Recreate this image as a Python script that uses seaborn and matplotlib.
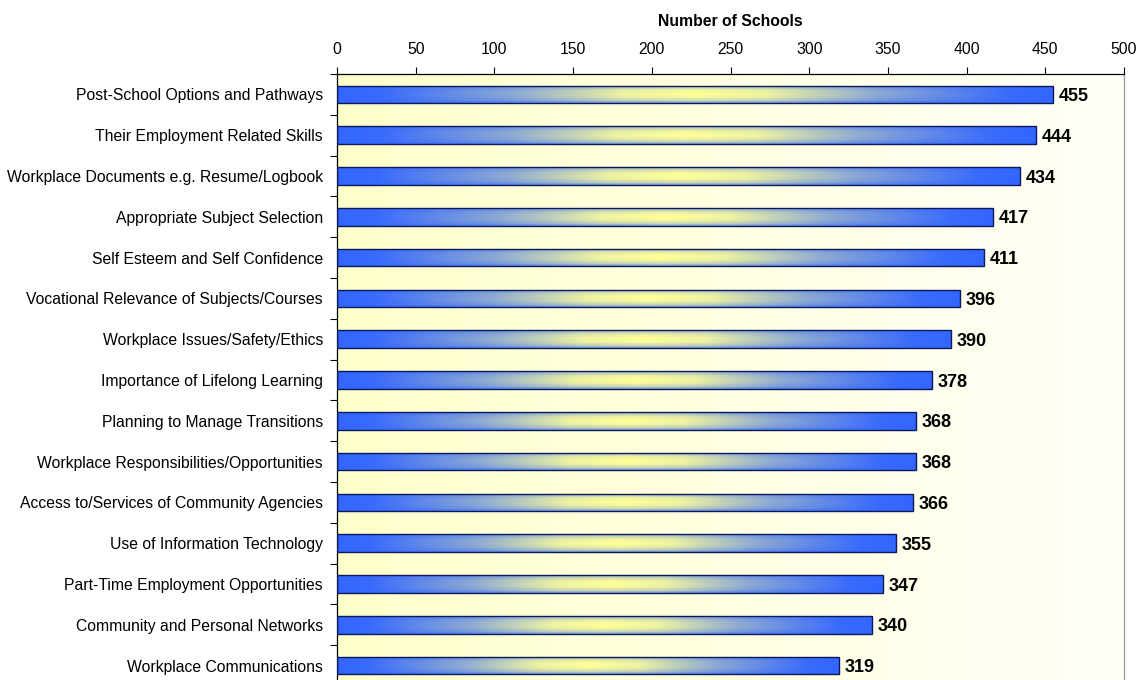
import numpy as np
import pandas as pd
import matplotlib
matplotlib.use("Agg")
import matplotlib.pyplot as plt
import seaborn as sns
from matplotlib.colors import to_rgb

categories = [
    "Post-School Options and Pathways",
    "Their Employment Related Skills",
    "Workplace Documents e.g. Resume/Logbook",
    "Appropriate Subject Selection",
    "Self Esteem and Self Confidence",
    "Vocational Relevance of Subjects/Courses",
    "Workplace Issues/Safety/Ethics",
    "Importance of Lifelong Learning",
    "Planning to Manage Transitions",
    "Workplace Responsibilities/Opportunities",
    "Access to/Services of Community Agencies",
    "Use of Information Technology",
    "Part-Time Employment Opportunities",
    "Community and Personal Networks",
    "Workplace Communications",
]
values = [455, 444, 434, 417, 411, 396, 390, 378, 368, 368, 366, 355, 347, 340, 319]
x_ticks = [0, 50, 100, 150, 200, 250, 300, 350, 400, 450, 500]

sns.set_theme(style="white")
plt.rcParams["font.family"] = ["Liberation Sans", "DejaVu Sans"]
plt.rcParams["text.color"] = "black"
plt.rcParams["axes.labelcolor"] = "black"
plt.rcParams["xtick.color"] = "black"
plt.rcParams["ytick.color"] = "black"

df = pd.DataFrame({"cat": categories, "val": values})

fig = plt.figure(figsize=(11.41, 6.80), dpi=100)
W, H = 1141, 680
left, right, top, bottom = 337, 1124, 74, 686
ax = fig.add_axes([left / W, 1 - bottom / H, (right - left) / W, (bottom - top) / H])

sns.barplot(data=df, x="val", y="cat", ax=ax, orient="h", width=0.43,
            facecolor="none", edgecolor="#0a1a5c", linewidth=1.0, zorder=3)

ax.set_xlim(0, 500)
ax.set_ylim(len(categories) - 0.5, -0.5)

# background gradient
nbg = 800
bg = np.zeros((2, nbg, 3))
c1 = np.array(to_rgb("#FFFFCC"))
c2 = np.array(to_rgb("#FFFFF8"))
t = np.linspace(0, 1, nbg)
for i in range(3):
    bg[:, :, i] = c1[i] + (c2[i] - c1[i]) * t
ax.imshow(bg, extent=[0, 1, 0, 1], transform=ax.transAxes, aspect="auto", zorder=0,
          interpolation="nearest")

# bar gradient (blue - yellow - blue)
blue = np.array(to_rgb("#3366FF"))
yellow = np.array(to_rgb("#FFFF99"))
nx, ny = 800, 24
xs = np.linspace(0, 1, nx)
ys = np.linspace(-1, 1, ny)
fp = [0.0, 0.06, 0.25, 0.40, 0.5, 0.60, 0.75, 0.94, 1.0]
wp = [0.0, 0.03, 0.45, 0.92, 1.0, 0.92, 0.45, 0.03, 0.0]
hw = np.interp(xs, fp, wp)
vw = 1 - 0.55 * np.abs(ys) ** 2.5
w = hw[None, :] * vw[:, None]
img = blue[None, None, :] * (1 - w[..., None]) + yellow[None, None, :] * w[..., None]

for patch in ax.patches:
    x0, y0 = patch.get_x(), patch.get_y()
    pw, ph = patch.get_width(), patch.get_height()
    if pw <= 0:
        continue
    im = ax.imshow(img, extent=[x0, x0 + pw, y0 + ph, y0], aspect="auto", zorder=2,
                   interpolation="nearest")
    im.set_clip_path(patch)

ax.set_xlim(0, 500)
ax.set_ylim(len(categories) - 0.5, -0.5)

for i, v in enumerate(values):
    ax.text(v + 3.5, i + 0.05, str(v), va="center", ha="left", fontsize=13,
            fontweight="bold", color="black", zorder=4)

ax.xaxis.tick_top()
ax.xaxis.set_label_position("top")
ax.set_xticks(x_ticks)
ax.set_xticklabels([str(x) for x in x_ticks], fontsize=11.3)
ax.set_xlabel("Number of Schools", fontsize=11.3, fontweight="bold", labelpad=11)
ax.set_ylabel("")
ax.set_yticks(range(len(categories)))
ax.set_yticklabels(categories, fontsize=11.3)
ax.tick_params(axis="y", length=0, pad=10)
ax.set_yticks(np.arange(-0.5, len(categories), 1), minor=True)
ax.tick_params(axis="y", which="minor", length=5, width=0.8, color="black", left=True)
ax.tick_params(axis="x", which="major", length=5, width=0.8, color="black", top=True, pad=7.5)

for s in ["left", "top"]:
    ax.spines[s].set_visible(True)
    ax.spines[s].set_color("black")
    ax.spines[s].set_linewidth(0.9)
ax.spines["right"].set_color("#999999")
ax.spines["right"].set_linewidth(0.9)
ax.spines["bottom"].set_visible(False)
ax.grid(False)

fig.savefig("out.png", dpi=100, facecolor="white")
